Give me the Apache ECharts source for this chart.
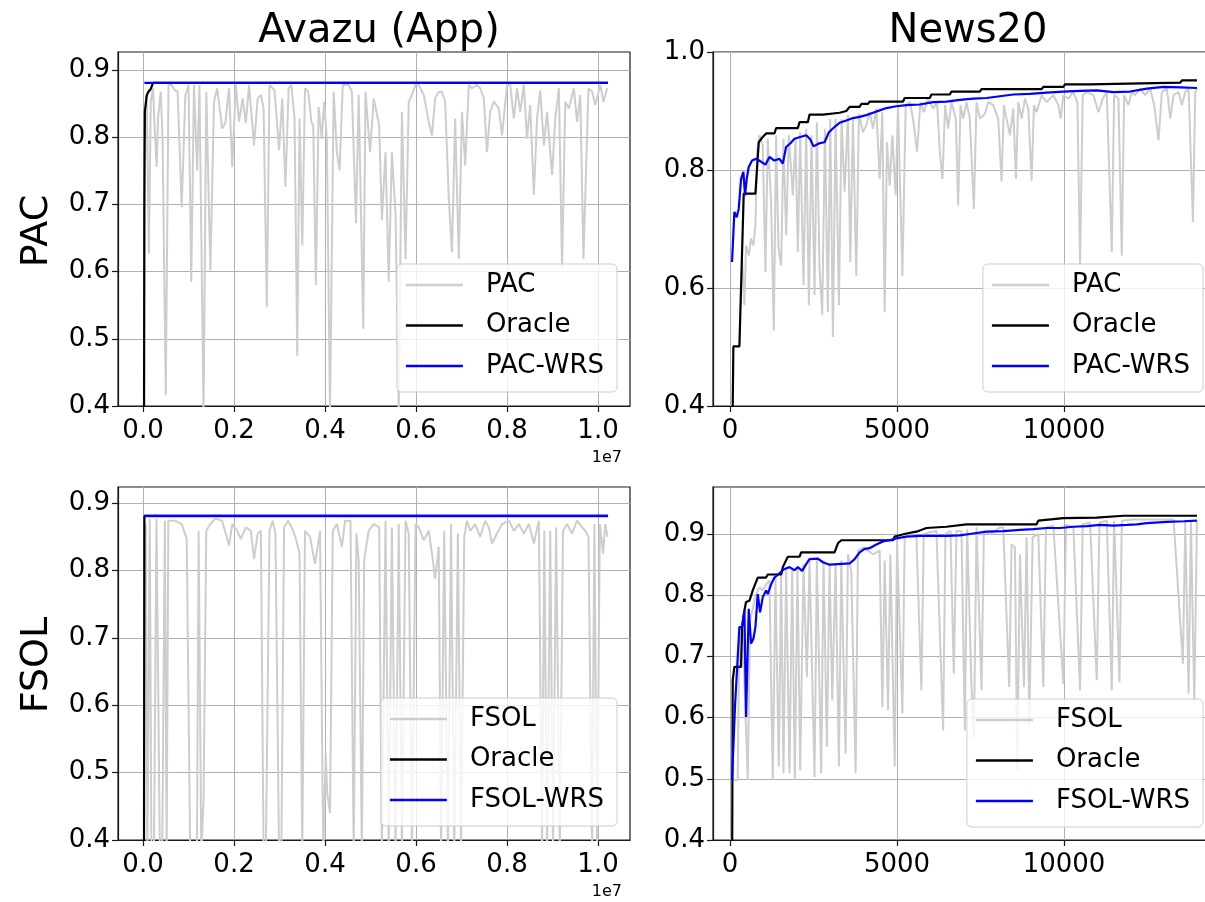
<!DOCTYPE html>
<html><head><meta charset="utf-8">
<script src="https://cdn.jsdelivr.net/npm/echarts@6/dist/echarts.min.js"></script>
<style>html,body{margin:0;padding:0;background:#fff}#c{width:1205px;height:902px}</style>
</head><body><div id="c"></div>
<script>
const FONT = 'DejaVu Sans';
const columnTitles = ['Avazu (App)', 'News20'];
const rowLabels = ['PAC', 'FSOL'];
const avazuXOffsetText = '1e7';          // Avazu x values are given in units of 1e7 samples
const avazuXTicks = [0, 0.2, 0.4, 0.6, 0.8, 1.0];
const news20XTicks = [0, 5000, 10000];
const yTicksStep01 = [0.4, 0.5, 0.6, 0.7, 0.8, 0.9];
const yTicksStep02 = [0.4, 0.6, 0.8, 1.0];
const legendPAC = ['PAC', 'Oracle', 'PAC-WRS'];
const legendFSOL = ['FSOL', 'Oracle', 'FSOL-WRS'];

// ---------- Avazu (App), PAC row ----------
const avazuPAC = [[0.008,0.863],[0.013,0.627],[0.017,0.853],[0.022,0.873],[0.026,0.808],[0.030,0.756],[0.033,0.828],[0.039,0.868],[0.043,0.793],[0.050,0.416],[0.056,0.878],[0.063,0.878],[0.070,0.870],[0.076,0.868],[0.085,0.696],[0.093,0.863],[0.100,0.878],[0.106,0.585],[0.112,0.878],[0.119,0.751],[0.124,0.878],[0.133,0.390],[0.139,0.868],[0.148,0.602],[0.156,0.853],[0.163,0.873],[0.174,0.813],[0.181,0.821],[0.189,0.873],[0.196,0.756],[0.204,0.878],[0.211,0.823],[0.219,0.858],[0.226,0.821],[0.233,0.878],[0.244,0.788],[0.252,0.858],[0.259,0.863],[0.265,0.843],[0.272,0.547],[0.278,0.878],[0.289,0.870],[0.299,0.781],[0.306,0.858],[0.313,0.726],[0.320,0.873],[0.326,0.878],[0.333,0.828],[0.339,0.475],[0.344,0.828],[0.350,0.639],[0.356,0.873],[0.363,0.868],[0.370,0.823],[0.374,0.818],[0.380,0.580],[0.386,0.845],[0.393,0.798],[0.398,0.853],[0.404,0.798],[0.411,0.390],[0.419,0.868],[0.426,0.778],[0.432,0.751],[0.439,0.878],[0.452,0.878],[0.459,0.868],[0.468,0.672],[0.474,0.863],[0.484,0.515],[0.489,0.868],[0.499,0.778],[0.507,0.858],[0.519,0.818],[0.525,0.677],[0.533,0.778],[0.540,0.585],[0.547,0.778],[0.555,0.684],[0.562,0.390],[0.569,0.838],[0.577,0.619],[0.584,0.853],[0.591,0.863],[0.599,0.878],[0.606,0.878],[0.617,0.863],[0.628,0.823],[0.635,0.803],[0.642,0.858],[0.650,0.868],[0.657,0.868],[0.664,0.853],[0.672,0.709],[0.679,0.629],[0.686,0.828],[0.694,0.619],[0.701,0.838],[0.708,0.758],[0.716,0.878],[0.723,0.873],[0.734,0.878],[0.741,0.873],[0.749,0.858],[0.756,0.778],[0.763,0.838],[0.771,0.853],[0.782,0.843],[0.789,0.803],[0.800,0.878],[0.807,0.878],[0.815,0.828],[0.822,0.873],[0.829,0.838],[0.837,0.878],[0.844,0.798],[0.851,0.848],[0.859,0.714],[0.866,0.828],[0.873,0.870],[0.881,0.788],[0.888,0.838],[0.899,0.744],[0.906,0.828],[0.914,0.873],[0.921,0.605],[0.928,0.853],[0.936,0.843],[0.947,0.873],[0.954,0.823],[0.961,0.863],[0.968,0.619],[0.979,0.873],[0.987,0.868],[0.994,0.848],[1.005,0.878],[1.012,0.853],[1.020,0.873]];
const avazuOraclePAC = [[0.002,0.300],[0.003,0.700],[0.004,0.838],[0.008,0.862],[0.011,0.867],[0.017,0.872],[0.022,0.881],[1.022,0.881]];
const avazuPACWRS = [[0.003,0.881],[0.250,0.881],[0.500,0.881],[0.750,0.881],[1.022,0.881]];

// ---------- Avazu (App), FSOL row ----------
const avazuFSOL = [[0.006,0.870],[0.0096,0.380],[0.0148,0.877],[0.0185,0.380],[0.024,0.380],[0.0296,0.877],[0.037,0.380],[0.0422,0.380],[0.048,0.874],[0.0519,0.380],[0.0556,0.874],[0.070,0.874],[0.085,0.869],[0.096,0.847],[0.100,0.845],[0.1037,0.380],[0.1089,0.380],[0.1133,0.380],[0.1185,0.380],[0.1222,0.859],[0.1281,0.380],[0.133,0.459],[0.139,0.859],[0.148,0.869],[0.159,0.877],[0.174,0.874],[0.189,0.837],[0.196,0.869],[0.207,0.859],[0.215,0.847],[0.226,0.864],[0.237,0.859],[0.244,0.817],[0.252,0.855],[0.259,0.859],[0.265,0.380],[0.270,0.380],[0.278,0.859],[0.285,0.874],[0.291,0.855],[0.299,0.380],[0.304,0.380],[0.310,0.864],[0.319,0.874],[0.330,0.859],[0.337,0.845],[0.344,0.825],[0.350,0.380],[0.356,0.859],[0.367,0.850],[0.378,0.810],[0.389,0.859],[0.396,0.380],[0.4015,0.528],[0.405,0.469],[0.411,0.440],[0.417,0.859],[0.426,0.869],[0.437,0.835],[0.444,0.874],[0.456,0.874],[0.463,0.380],[0.469,0.855],[0.474,0.815],[0.481,0.380],[0.486,0.815],[0.496,0.859],[0.507,0.869],[0.519,0.864],[0.525,0.380],[0.533,0.874],[0.540,0.380],[0.547,0.864],[0.555,0.380],[0.562,0.869],[0.569,0.380],[0.577,0.874],[0.584,0.855],[0.591,0.380],[0.599,0.869],[0.606,0.864],[0.617,0.845],[0.628,0.859],[0.635,0.825],[0.642,0.788],[0.650,0.835],[0.655,0.380],[0.662,0.859],[0.670,0.380],[0.677,0.869],[0.684,0.380],[0.692,0.855],[0.699,0.380],[0.706,0.850],[0.712,0.874],[0.719,0.859],[0.730,0.869],[0.741,0.850],[0.752,0.874],[0.760,0.864],[0.767,0.840],[0.778,0.855],[0.789,0.869],[0.804,0.874],[0.815,0.859],[0.826,0.869],[0.837,0.855],[0.848,0.869],[0.859,0.840],[0.870,0.874],[0.877,0.380],[0.882,0.859],[0.888,0.380],[0.895,0.859],[0.901,0.380],[0.908,0.864],[0.916,0.380],[0.923,0.859],[0.932,0.869],[0.943,0.855],[0.954,0.874],[0.965,0.864],[0.972,0.859],[0.979,0.850],[0.987,0.380],[0.992,0.869],[0.998,0.380],[1.004,0.869],[1.011,0.825],[1.016,0.869],[1.021,0.850]];
const avazuOracleFSOL = [[0.002,0.300],[0.003,0.881],[1.022,0.881]];
const avazuFSOLWRS = [[0.003,0.881],[0.250,0.881],[0.500,0.881],[0.750,0.881],[1.022,0.881]];

// ---------- News20, PAC row ----------
const news20PAC = [[360,0.650],[430,0.571],[480,0.672],[560,0.655],[630,0.684],[700,0.672],[760,0.706],[810,0.831],[880,0.859],[980,0.842],[1060,0.627],[1130,0.853],[1230,0.746],[1310,0.528],[1380,0.859],[1450,0.667],[1530,0.638],[1600,0.853],[1680,0.689],[1760,0.859],[1880,0.757],[1960,0.853],[2030,0.661],[2100,0.864],[2200,0.605],[2280,0.870],[2360,0.571],[2440,0.859],[2530,0.588],[2600,0.881],[2680,0.633],[2760,0.554],[2840,0.870],[2930,0.559],[3000,0.887],[3080,0.517],[3160,0.887],[3260,0.571],[3340,0.887],[3430,0.763],[3530,0.893],[3600,0.644],[3680,0.887],[3780,0.621],[3860,0.895],[3980,0.864],[4080,0.876],[4180,0.898],[4280,0.870],[4380,0.904],[4480,0.785],[4560,0.898],[4630,0.559],[4700,0.847],[4780,0.774],[4860,0.859],[4960,0.757],[5030,0.910],[5160,0.621],[5260,0.910],[5380,0.915],[5480,0.887],[5600,0.831],[5700,0.915],[5800,0.898],[5930,0.921],[6080,0.904],[6200,0.915],[6280,0.831],[6360,0.785],[6440,0.910],[6530,0.870],[6630,0.915],[6760,0.887],[6830,0.740],[6900,0.910],[6980,0.887],[7080,0.915],[7180,0.887],[7300,0.734],[7380,0.915],[7480,0.887],[7630,0.895],[7730,0.915],[7880,0.910],[8030,0.887],[8130,0.780],[8200,0.910],[8280,0.887],[8380,0.859],[8480,0.904],[8560,0.785],[8630,0.915],[8730,0.887],[8830,0.921],[8930,0.904],[9030,0.782],[9100,0.910],[9180,0.898],[9330,0.927],[9480,0.915],[9680,0.927],[9830,0.910],[9900,0.887],[9980,0.927],[10130,0.921],[10280,0.932],[10400,0.915],[10480,0.638],[10560,0.927],[10680,0.932],[10880,0.927],[11030,0.898],[11160,0.921],[11280,0.932],[11430,0.661],[11500,0.927],[11630,0.921],[11730,0.655],[11800,0.927],[11930,0.910],[12030,0.932],[12130,0.927],[12280,0.938],[12430,0.927],[12580,0.938],[12700,0.910],[12830,0.850],[12930,0.932],[13080,0.938],[13180,0.887],[13280,0.927],[13430,0.932],[13530,0.910],[13630,0.932],[13730,0.938],[13860,0.712],[13930,0.932],[13980,0.938]];
const news20OraclePAC = [[60,0.300],[100,0.501],[280,0.501],[410,0.760],[760,0.760],[860,0.847],[980,0.856],[1080,0.862],[1330,0.862],[1380,0.871],[2030,0.871],[2080,0.881],[2330,0.881],[2380,0.894],[2780,0.894],[2800,0.897],[3280,0.897],[3330,0.900],[3480,0.900],[3580,0.907],[3880,0.907],[3930,0.912],[4130,0.912],[4180,0.916],[5180,0.916],[5230,0.922],[5980,0.922],[6030,0.928],[6580,0.928],[6630,0.933],[7480,0.933],[7530,0.937],[9330,0.937],[9380,0.941],[9980,0.941],[10030,0.945],[10780,0.945],[10830,0.948],[13480,0.948],[13530,0.952],[13980,0.952]];
const news20PACWRS = [[60,0.644],[130,0.729],[200,0.720],[260,0.734],[330,0.785],[400,0.797],[450,0.757],[500,0.785],[560,0.805],[660,0.816],[780,0.819],[930,0.814],[1060,0.809],[1180,0.822],[1330,0.816],[1480,0.819],[1580,0.811],[1680,0.839],[1800,0.845],[1930,0.853],[2100,0.856],[2280,0.859],[2400,0.852],[2500,0.840],[2660,0.845],[2830,0.847],[2960,0.864],[3130,0.873],[3280,0.880],[3480,0.884],[3680,0.888],[3880,0.890],[4080,0.893],[4280,0.897],[4480,0.901],[4680,0.905],[4980,0.908],[5280,0.910],[5680,0.911],[6080,0.915],[6480,0.916],[6880,0.919],[7280,0.921],[7680,0.922],[8080,0.925],[8480,0.928],[8980,0.929],[9480,0.931],[9980,0.933],[10480,0.934],[10980,0.935],[11480,0.932],[11980,0.933],[12480,0.938],[12980,0.941],[13480,0.940],[13980,0.939]];

// ---------- News20, FSOL row ----------
const news20FSOL = [[130,0.498],[230,0.498],[280,0.748],[380,0.742],[530,0.498],[600,0.759],[780,0.802],[880,0.813],[980,0.808],[1080,0.818],[1180,0.824],[1280,0.498],[1360,0.829],[1460,0.520],[1530,0.840],[1600,0.509],[1680,0.843],[1780,0.509],[1860,0.840],[1940,0.498],[2020,0.846],[2100,0.514],[2200,0.851],[2300,0.666],[2380,0.857],[2530,0.503],[2600,0.860],[2730,0.509],[2800,0.857],[2900,0.552],[2980,0.851],[3060,0.628],[3160,0.851],[3260,0.520],[3330,0.857],[3460,0.541],[3530,0.867],[3630,0.840],[3760,0.509],[3830,0.873],[3980,0.878],[4130,0.873],[4280,0.867],[4480,0.873],[4560,0.617],[4630,0.857],[4730,0.612],[4800,0.867],[4930,0.520],[5000,0.889],[5160,0.607],[5230,0.895],[5430,0.900],[5580,0.895],[5730,0.645],[5800,0.900],[5980,0.903],[6180,0.905],[6380,0.579],[6450,0.900],[6600,0.905],[6700,0.672],[6780,0.905],[6930,0.905],[7030,0.579],[7100,0.908],[7230,0.650],[7300,0.566],[7380,0.911],[7530,0.645],[7600,0.905],[7780,0.900],[7930,0.905],[8080,0.911],[8180,0.911],[8360,0.650],[8430,0.883],[8530,0.878],[8600,0.514],[8680,0.867],[8800,0.650],[8880,0.895],[8960,0.587],[9060,0.895],[9230,0.900],[9380,0.650],[9460,0.911],[9680,0.914],[9980,0.655],[10060,0.916],[10280,0.911],[10480,0.645],[10560,0.916],[10780,0.919],[10980,0.661],[11060,0.919],[11280,0.922],[11430,0.645],[11500,0.922],[11660,0.658],[11730,0.922],[12080,0.924],[12480,0.924],[12880,0.924],[13280,0.924],[13560,0.688],[13630,0.922],[13730,0.639],[13800,0.922],[13900,0.623],[13980,0.922]];
const news20OracleFSOL = [[60,0.300],[80,0.661],[130,0.683],[330,0.683],[360,0.748],[430,0.775],[480,0.789],[580,0.791],[680,0.808],[830,0.829],[1080,0.829],[1130,0.834],[1530,0.834],[1580,0.846],[1730,0.863],[2080,0.863],[2130,0.870],[3130,0.870],[3230,0.885],[3330,0.890],[4880,0.890],[4930,0.896],[5280,0.901],[5580,0.904],[5880,0.910],[6480,0.912],[7080,0.916],[9180,0.916],[9230,0.922],[9980,0.926],[10980,0.927],[11780,0.930],[13980,0.930]];
const news20FSOLWRS = [[60,0.498],[150,0.620],[280,0.748],[360,0.748],[430,0.775],[480,0.601],[560,0.778],[630,0.721],[700,0.729],[760,0.748],[830,0.802],[900,0.772],[980,0.797],[1080,0.808],[1130,0.802],[1230,0.818],[1330,0.829],[1480,0.836],[1630,0.843],[1780,0.846],[1930,0.841],[2030,0.846],[2160,0.840],[2280,0.851],[2380,0.859],[2630,0.860],[2780,0.854],[2980,0.850],[3230,0.851],[3580,0.852],[3730,0.859],[3880,0.870],[4030,0.876],[4180,0.877],[4380,0.883],[4580,0.888],[4780,0.890],[4980,0.893],[5280,0.896],[5680,0.897],[6080,0.897],[6480,0.897],[6880,0.898],[7280,0.901],[7680,0.904],[8180,0.905],[8680,0.907],[9080,0.908],[9480,0.910],[9880,0.910],[10280,0.912],[10680,0.913],[11080,0.915],[11480,0.914],[11880,0.915],[12180,0.916],[12480,0.918],[13080,0.920],[13580,0.921],[13980,0.922]];

const GRAY = '#cdcdcd', BLACK = '#000000', BLUE = '#0000ff';

const grids = [
  {left:118, top:52,  width:512, height:354},
  {left:713, top:52,  width:507, height:354},
  {left:118, top:487, width:512, height:353},
  {left:713, top:487, width:507, height:353}
].map(g => Object.assign({show:true, borderColor:'#1a1a1a', borderWidth:1.2, backgroundColor:'#fff',
  containLabel:false, outerBoundsMode:'none'}, g));

const labelStyle = {fontFamily:FONT, fontSize:26, color:'#000'};
function xAxis(gi, min, max, ticks, fmt) {
  return {type:'value', gridIndex:gi, min, max,
    axisLine:{show:true, onZero:false, lineStyle:{color:'#1a1a1a', width:1.2}},
    axisTick:{show:true, length:6, customValues:ticks, lineStyle:{color:'#1a1a1a', width:1.2}},
    axisLabel:Object.assign({customValues:ticks, margin:12, formatter:fmt}, labelStyle),
    splitLine:{show:true, lineStyle:{color:'#b0b0b0', width:1}}};
}
function yAxis(gi, min, max, ticks) {
  return {type:'value', gridIndex:gi, min, max,
    axisLine:{show:true, onZero:false, lineStyle:{color:'#1a1a1a', width:1.2}},
    axisTick:{show:true, length:6, customValues:ticks, lineStyle:{color:'#1a1a1a', width:1.2}},
    axisLabel:Object.assign({customValues:ticks, margin:8, formatter:v => v.toFixed(1)}, labelStyle),
    splitLine:{show:true, lineStyle:{color:'#b0b0b0', width:1}}};
}
const fmtAvazu = v => v.toFixed(1);
const fmtNews = v => String(Math.round(v));

function line(name, data, color, width, gi) {
  return {type:'line', name, data, xAxisIndex:gi, yAxisIndex:gi, symbol:'none', showSymbol:false,
    clip:true, animation:false, lineStyle:{color, width}, itemStyle:{color}, emphasis:{disabled:true}};
}

const series = [
  line('PAC', avazuPAC, GRAY, 2, 0), line('Oracle', avazuOraclePAC, BLACK, 2.2, 0), line('PAC-WRS', avazuPACWRS, BLUE, 2.4, 0),
  line('PAC', news20PAC, GRAY, 2, 1), line('Oracle', news20OraclePAC, BLACK, 2.2, 1), line('PAC-WRS', news20PACWRS, BLUE, 2.2, 1),
  line('FSOL', avazuFSOL, GRAY, 2, 2), line('Oracle', avazuOracleFSOL, BLACK, 2.2, 2), line('FSOL-WRS', avazuFSOLWRS, BLUE, 2.4, 2),
  line('FSOL', news20FSOL, GRAY, 2, 3), line('Oracle', news20OracleFSOL, BLACK, 2.2, 3), line('FSOL-WRS', news20FSOLWRS, BLUE, 2.2, 3)
];

function legend(data, right, top) {
  return {data, right, top, orient:'vertical', icon:'rect', itemWidth:57, itemHeight:2.5, itemGap:14.5,
    padding:[8,13,13,9], backgroundColor:'rgba(255,255,255,0.8)', borderColor:'#cccccc', borderWidth:1, borderRadius:5,
    selectedMode:false, textStyle:Object.assign({padding:[0,0,0,18]}, labelStyle)};
}

const option = {
  animation:false,
  backgroundColor:'#ffffff',
  title:[
    {text:columnTitles[0], left:374, top:7, textAlign:'center', textStyle:{fontFamily:FONT, fontSize:40, fontWeight:'normal', color:'#000'}},
    {text:columnTitles[1], left:963, top:7, textAlign:'center', textStyle:{fontFamily:FONT, fontSize:40, fontWeight:'normal', color:'#000'}}
  ],
  grid:grids,
  xAxis:[
    xAxis(0, -0.055, 1.0703, avazuXTicks, fmtAvazu),
    xAxis(1, -510, 14670, news20XTicks, fmtNews),
    xAxis(2, -0.055, 1.0703, avazuXTicks, fmtAvazu),
    xAxis(3, -510, 14670, news20XTicks, fmtNews)
  ],
  yAxis:[
    yAxis(0, 0.4, 0.927, yTicksStep01),
    yAxis(1, 0.4, 1.0, yTicksStep02),
    yAxis(2, 0.4, 0.924, yTicksStep01),
    yAxis(3, 0.4, 0.977, yTicksStep01)
  ],
  legend:[legend(legendPAC, 588, 264), legend(legendPAC, 2, 264), legend(legendFSOL, 588, 698), legend(legendFSOL, 2, 699)],
  graphic:[
    {type:'text', x:37, y:231, rotation:Math.PI/2, style:{text:rowLabels[0], font:'38px "DejaVu Sans"', fill:'#000', textAlign:'center', textVerticalAlign:'middle'}},
    {type:'text', x:37, y:665, rotation:Math.PI/2, style:{text:rowLabels[1], font:'38px "DejaVu Sans"', fill:'#000', textAlign:'center', textVerticalAlign:'middle'}},
    {type:'text', x:622, y:458, style:{text:avazuXOffsetText, font:'16px "DejaVu Sans"', fill:'#000', textAlign:'right', textVerticalAlign:'middle'}},
    {type:'text', x:622, y:892, style:{text:avazuXOffsetText, font:'16px "DejaVu Sans"', fill:'#000', textAlign:'right', textVerticalAlign:'middle'}}
  ],
  series
};
const chart = echarts.init(document.getElementById('c'), null, {renderer:'canvas'});
chart.setOption(option);
</script></body></html>
